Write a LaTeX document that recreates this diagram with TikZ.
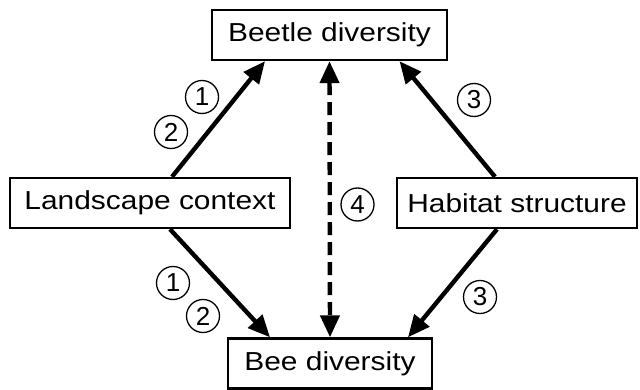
\documentclass[tikz,border=0pt]{standalone}
\usepackage{fontspec}
\setmainfont{Liberation Sans}
\usetikzlibrary{arrows.meta}
\newcommand{\wtext}[1]{\scalebox{1.15}[1]{#1}}
\begin{document}
\begin{tikzpicture}[x=1pt,y=-1pt,
  box/.style={draw,line width=2.4pt,inner sep=0pt,minimum height=50pt,font=\fontsize{26}{30}\selectfont},
  num/.style={draw,circle,line width=1.3pt,inner sep=0pt,minimum size=33pt,font=\fontsize{26}{28}\selectfont},
  arr/.style={line width=4.4pt,-{Triangle[length=22pt,width=19pt]}},
  darr/.style={line width=4.4pt,{Triangle[length=22pt,width=19pt]}-{Triangle[length=22pt,width=19pt]},dash pattern=on 13pt off 7pt}]
\useasboundingbox (0,0) rectangle (640,390);
\node[box,minimum width=235pt] (beetle) at (329.5,35) {\wtext{Beetle diversity}};
\node[box,minimum width=280pt] (land) at (150,203) {\wtext{Landscape context}};
\node[box,minimum width=240pt] (hab) at (517,203) {\wtext{Habitat structure}};
\node[box,minimum width=204pt] (bee) at (330,363.5) {\wtext{Bee diversity}};
\draw[arr] ([xshift=22pt]land.north) -- ([xshift=-64.5pt]beetle.south);
\draw[arr] ([xshift=-22pt]hab.north) -- ([xshift=70pt]beetle.south);
\draw[arr] ([xshift=20pt]land.south) -- ([xshift=-60pt]bee.north);
\draw[arr] ([xshift=-20pt]hab.south) -- ([xshift=78pt]bee.north);
\draw[darr] (beetle.south) -- (bee.north);
\node[num] (n1a) at (202,97) {1};
\node[num] (n2a) at (171,132) {2};
\node[num] (n3a) at (474,100) {3};
\node[num] (n4) at (357.5,204.5) {4};
\node[num] (n1b) at (173,283) {1};
\node[num] (n2b) at (203,316) {2};
\node[num] (n3b) at (480,297) {3};
\end{tikzpicture}
\end{document}
